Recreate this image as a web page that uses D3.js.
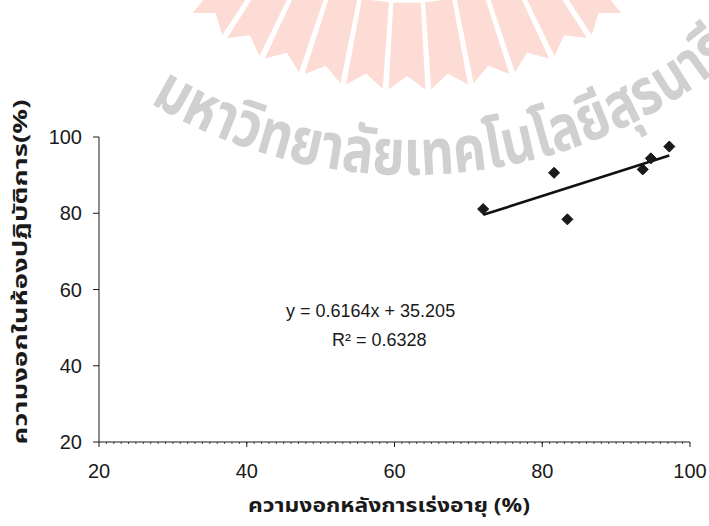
<!DOCTYPE html>
<head>
    <meta charset="utf-8">
    <title>Germination scatter</title>
    <style>
        body { margin: 0; background: #fff; }
        text { font-family: "Liberation Sans", Arial, sans-serif; fill: #1a1a1a; }
        .thai { font-family: "Noto Sans Thai", "Tahoma", "Liberation Sans", sans-serif; font-weight: bold; }
    </style>
</head>
<body>
<svg width="709" height="526"></svg>

<script src="https://d3js.org/d3.v7.min.js"></script>
<script>

    //data
    var xVals = [72.0, 81.6, 83.4, 93.6, 94.7, 97.2];   // after accelerated ageing (%)
    var yVals = [81.1, 90.6, 78.4, 91.5, 94.4, 97.5];   // lab germination (%)
    var xTicks = [20, 40, 60, 80, 100];
    var yTicks = [20, 40, 60, 80, 100];
    var slope = 0.6164, intercept = 35.205, r2 = 0.6328;
    var xTitle = "ความงอกหลังการเร่งอายุ (%)";
    var yTitle = "ความงอกในห้องปฏิบัติการ(%)";
    var watermark = "มหาวิทยาลัยเทคโนโลยีสุรนารี";

    var svg = d3.select("svg");

    //scales
    var x = d3.scaleLinear().domain([20, 100]).range([99, 690]);
    var y = d3.scaleLinear().domain([20, 100]).range([442, 137]);

    //****************watermark (scanned page background)****************//
    var wm = svg.append("g").attr("class", "watermark");
    var rc = [407, -247], rIn = 250, rOut = 337, nRays = 11, a0 = -40, a1 = 40;
    var rad = d => d * Math.PI / 180;
    var pt = (r, a) => [rc[0] + r * Math.sin(rad(a)), rc[1] + r * Math.cos(rad(a))];
    var step = (a1 - a0) / nRays, gap = 0.5;
    d3.range(nRays).forEach(i => {
        var s = a0 + i * step + gap, e = a0 + (i + 1) * step - gap, m = (s + e) / 2;
        var poly = [pt(rIn, s), pt(rIn, e), pt(rOut, e), pt(rOut - 14, m), pt(rOut, s)];
        wm.append("path")
            .attr("d", "M" + poly.join("L") + "Z")
            .attr("fill", "#fcdcd4");
    });

    //curved university name, runs off the right edge like the scan
    var tc = [410, -330], tr = 505, t0 = -31, t1 = 40;
    var tp0 = [tc[0] + tr * Math.sin(rad(t0)), tc[1] + tr * Math.cos(rad(t0))];
    var tp1 = [tc[0] + tr * Math.sin(rad(t1)), tc[1] + tr * Math.cos(rad(t1))];
    wm.append("path")
        .attr("id", "wmArc")
        .attr("fill", "none")
        .attr("d", "M" + tp0 + "A" + tr + "," + tr + " 0 0 0 " + tp1);
    wm.append("text")
        .attr("class", "thai")
        .attr("font-size", 64)
        .style("fill", "#d0d0d0")
        .append("textPath")
            .attr("href", "#wmArc")
            .attr("textLength", tr * rad(t1 - t0))
            .attr("lengthAdjust", "spacingAndGlyphs")
            .text(watermark);

    //****************axes****************//
    var ax = svg.append("g").attr("stroke", "#1a1a1a").attr("fill", "none");

    ax.append("line")
        .attr("x1", x(20)).attr("x2", x(20))
        .attr("y1", y(100)).attr("y2", y(20));
    ax.append("line")
        .attr("x1", x(20)).attr("x2", x(100))
        .attr("y1", y(20)).attr("y2", y(20));

    //y ticks point left
    ax.selectAll(".ytick").data(yTicks).enter().append("line")
        .attr("x1", x(20) - 6).attr("x2", x(20))
        .attr("y1", d => y(d)).attr("y2", d => y(d));

    //x ticks point down, with small minor ticks
    ax.selectAll(".xminor").data(d3.range(21, 100)).enter().append("line")
        .attr("stroke-width", 0.8)
        .attr("x1", d => x(d)).attr("x2", d => x(d))
        .attr("y1", y(20)).attr("y2", y(20) + 2);
    ax.selectAll(".xtick").data(xTicks).enter().append("line")
        .attr("x1", d => x(d)).attr("x2", d => x(d))
        .attr("y1", y(20)).attr("y2", y(20) + 5);

    svg.selectAll(".ylab").data(yTicks).enter().append("text")
        .attr("x", x(20) - 17)
        .attr("y", d => y(d) + 7)
        .attr("text-anchor", "end")
        .attr("font-size", 20)
        .text(d => d);

    svg.selectAll(".xlab").data(xTicks).enter().append("text")
        .attr("x", d => x(d))
        .attr("y", y(20) + 36)
        .attr("text-anchor", "middle")
        .attr("font-size", 20)
        .text(d => d);

    //axis titles
    svg.append("text")
        .attr("class", "thai")
        .attr("x", 389).attr("y", 512)
        .attr("text-anchor", "middle")
        .attr("font-size", 19)
        .attr("textLength", 282)
        .attr("lengthAdjust", "spacingAndGlyphs")
        .text(xTitle);

    svg.append("text")
        .attr("class", "thai")
        .attr("transform", "translate(27,272) rotate(-90)")
        .attr("text-anchor", "middle")
        .attr("font-size", 19)
        .attr("textLength", 345)
        .attr("lengthAdjust", "spacingAndGlyphs")
        .text(yTitle);

    //****************trend line + points****************//
    var xr = d3.extent(xVals);
    svg.append("line")
        .attr("x1", x(xr[0])).attr("y1", y(slope * xr[0] + intercept))
        .attr("x2", x(xr[1])).attr("y2", y(slope * xr[1] + intercept))
        .attr("stroke", "#111")
        .attr("stroke-width", 2.6);

    svg.selectAll(".pt").data(xVals).enter().append("path")
        .attr("transform", (d, i) => "translate(" + x(d) + "," + y(yVals[i]) + ")")
        .attr("d", "M0,-5.5L5.5,0L0,5.5L-5.5,0Z")
        .attr("fill", "#1a1a1a")
        .attr("stroke", "#111");

    //regression label
    svg.append("text")
        .attr("x", 286).attr("y", 317)
        .attr("font-size", 18)
        .text("y = " + slope + "x + " + intercept);
    svg.append("text")
        .attr("x", 332).attr("y", 346)
        .attr("font-size", 18)
        .text("R² = " + r2);

</script>
</body>
